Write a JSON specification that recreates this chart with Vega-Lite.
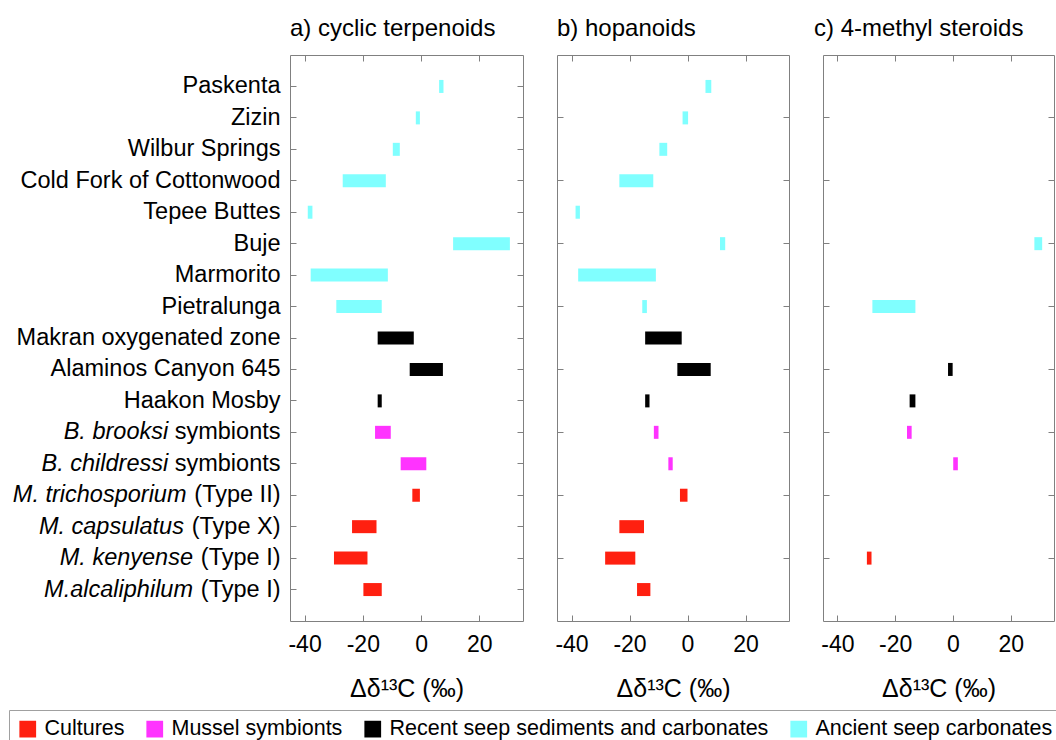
{
  "$schema": "https://vega.github.io/schema/vega-lite/v6.json",
  "padding": {"left": 8, "top": 16, "right": 0, "bottom": 0},
  "bounds": "flush",
  "spacing": 34,
  "config": {
    "font": "Liberation Sans",
    "view": {"stroke": null},
    "axis": {"domainColor": "#808080", "tickColor": "#808080", "labelColor": "#000000", "titleColor": "#000000", "labelFont": "Liberation Sans", "titleFont": "Liberation Sans", "grid": false, "titleFontWeight": "normal"},
    "axisX": {"labelFontSize": 23, "titleFontSize": 25, "labelPadding": 18, "titlePadding": 20, "labelExpr": "'' + datum.value"},
    "axisY": {"labelFontSize": 23.5, "labelLimit": 0},
    "title": {"font": "Liberation Sans", "fontSize": 24, "fontWeight": "normal", "anchor": "start", "frame": "group", "color": "#000000", "offset": 14, "baseline": "alphabetic"}
  },
  "data": {"values": [
    {"p": "a", "site": "Paskenta", "g": "Ancient seep carbonates", "lo": 6.2, "hi": 7.7},
    {"p": "a", "site": "Zizin", "g": "Ancient seep carbonates", "lo": -1.8, "hi": -0.4},
    {"p": "a", "site": "Wilbur Springs", "g": "Ancient seep carbonates", "lo": -9.7, "hi": -7.3},
    {"p": "a", "site": "Cold Fork of Cottonwood", "g": "Ancient seep carbonates", "lo": -26.9, "hi": -12.1},
    {"p": "a", "site": "Tepee Buttes", "g": "Ancient seep carbonates", "lo": -38.9, "hi": -37.3},
    {"p": "a", "site": "Buje", "g": "Ancient seep carbonates", "lo": 11.0, "hi": 30.5},
    {"p": "a", "site": "Marmorito", "g": "Ancient seep carbonates", "lo": -37.9, "hi": -11.4},
    {"p": "a", "site": "Pietralunga", "g": "Ancient seep carbonates", "lo": -29.1, "hi": -13.5},
    {"p": "a", "site": "Makran oxygenated zone", "g": "Recent seep sediments and carbonates", "lo": -14.9, "hi": -2.5},
    {"p": "a", "site": "Alaminos Canyon 645", "g": "Recent seep sediments and carbonates", "lo": -3.9, "hi": 7.5},
    {"p": "a", "site": "Haakon Mosby", "g": "Recent seep sediments and carbonates", "lo": -14.9, "hi": -13.5},
    {"p": "a", "site": "B. brooksi symbionts", "g": "Mussel symbionts", "lo": -15.8, "hi": -10.4},
    {"p": "a", "site": "B. childressi symbionts", "g": "Mussel symbionts", "lo": -7.0, "hi": 1.8},
    {"p": "a", "site": "M. trichosporium (Type II)", "g": "Cultures", "lo": -3.0, "hi": -0.4},
    {"p": "a", "site": "M. capsulatus (Type X)", "g": "Cultures", "lo": -23.7, "hi": -15.3},
    {"p": "a", "site": "M. kenyense (Type I)", "g": "Cultures", "lo": -29.9, "hi": -18.4},
    {"p": "a", "site": "M.alcaliphilum (Type I)", "g": "Cultures", "lo": -19.8, "hi": -13.5},
    {"p": "b", "site": "Paskenta", "g": "Ancient seep carbonates", "lo": 6.2, "hi": 8.2},
    {"p": "b", "site": "Zizin", "g": "Ancient seep carbonates", "lo": -1.7, "hi": 0.2},
    {"p": "b", "site": "Wilbur Springs", "g": "Ancient seep carbonates", "lo": -9.7, "hi": -7.0},
    {"p": "b", "site": "Cold Fork of Cottonwood", "g": "Ancient seep carbonates", "lo": -23.5, "hi": -11.8},
    {"p": "b", "site": "Tepee Buttes", "g": "Ancient seep carbonates", "lo": -38.6, "hi": -37.1},
    {"p": "b", "site": "Buje", "g": "Ancient seep carbonates", "lo": 11.2, "hi": 13.0},
    {"p": "b", "site": "Marmorito", "g": "Ancient seep carbonates", "lo": -37.7, "hi": -10.9},
    {"p": "b", "site": "Pietralunga", "g": "Ancient seep carbonates", "lo": -15.6, "hi": -14.0},
    {"p": "b", "site": "Makran oxygenated zone", "g": "Recent seep sediments and carbonates", "lo": -14.6, "hi": -2.0},
    {"p": "b", "site": "Alaminos Canyon 645", "g": "Recent seep sediments and carbonates", "lo": -3.5, "hi": 8.0},
    {"p": "b", "site": "Haakon Mosby", "g": "Recent seep sediments and carbonates", "lo": -14.6, "hi": -13.1},
    {"p": "b", "site": "B. brooksi symbionts", "g": "Mussel symbionts", "lo": -11.6, "hi": -10.0},
    {"p": "b", "site": "B. childressi symbionts", "g": "Mussel symbionts", "lo": -6.6, "hi": -5.1},
    {"p": "b", "site": "M. trichosporium (Type II)", "g": "Cultures", "lo": -2.6, "hi": 0.0},
    {"p": "b", "site": "M. capsulatus (Type X)", "g": "Cultures", "lo": -23.5, "hi": -15.0},
    {"p": "b", "site": "M. kenyense (Type I)", "g": "Cultures", "lo": -28.4, "hi": -18.0},
    {"p": "b", "site": "M.alcaliphilum (Type I)", "g": "Cultures", "lo": -17.4, "hi": -12.8},
    {"p": "c", "site": "Buje", "g": "Ancient seep carbonates", "lo": 28.2, "hi": 30.9},
    {"p": "c", "site": "Pietralunga", "g": "Ancient seep carbonates", "lo": -27.9, "hi": -13.0},
    {"p": "c", "site": "Alaminos Canyon 645", "g": "Recent seep sediments and carbonates", "lo": -1.7, "hi": -0.1},
    {"p": "c", "site": "Haakon Mosby", "g": "Recent seep sediments and carbonates", "lo": -15.0, "hi": -13.0},
    {"p": "c", "site": "B. brooksi symbionts", "g": "Mussel symbionts", "lo": -15.9, "hi": -14.3},
    {"p": "c", "site": "B. childressi symbionts", "g": "Mussel symbionts", "lo": 0.1, "hi": 1.7},
    {"p": "c", "site": "M. kenyense (Type I)", "g": "Cultures", "lo": -29.8, "hi": -28.2}
  ]},
  "hconcat": [
    {
      "width": 233, "height": 566,
      "title": {"text": "a) cyclic terpenoids"},
      "transform": [{"filter": "datum.p == 'a'"}],
      "layer": [
        {
          "mark": {"type": "bar", "size": 13},
          "encoding": {
            "y": {"field": "site", "type": "nominal", "scale": {"domain": ["Paskenta", "Zizin", "Wilbur Springs", "Cold Fork of Cottonwood", "Tepee Buttes", "Buje", "Marmorito", "Pietralunga", "Makran oxygenated zone", "Alaminos Canyon 645", "Haakon Mosby", "B. brooksi symbionts", "B. childressi symbionts", "M. trichosporium (Type II)", "M. capsulatus (Type X)", "M. kenyense (Type I)", "M.alcaliphilum (Type I)"], "paddingInner": 0, "paddingOuter": 0.5},
              "axis": {"orient": "left", "title": null, "tickSize": -6, "labelPadding": 16,
                "labelExpr": "test(/symbionts/, datum.value) ? 'symbionts' : (indexof(datum.value, '(') >= 0 ? substring(datum.value, indexof(datum.value, '(')) : datum.value)"}},
            "x": {"field": "lo", "type": "quantitative", "scale": {"domain": [-45, 35], "nice": false, "zero": false},
              "axis": {"orient": "bottom", "values": [-40, -20, 0, 20], "tickSize": -6, "title": "Δδ¹³C (‰)"}},
            "x2": {"field": "hi"},
            "color": {"field": "g", "type": "nominal",
              "scale": {"domain": ["Cultures", "Mussel symbionts", "Recent seep sediments and carbonates", "Ancient seep carbonates"], "range": ["#ff2010", "#ff33ff", "#000000", "#80ffff"]},
              "legend": {"title": null, "orient": "none", "legendX": -281, "legendY": 655, "direction": "horizontal", "columns": 4, "columnPadding": 19, "symbolType": "square", "symbolSize": 280, "symbolStrokeWidth": 0, "labelFontSize": 21.5, "labelFont": "Liberation Sans", "labelColor": "#000000", "labelOffset": 6, "labelLimit": 0, "strokeColor": "#a0a0a0", "padding": 8, "fillColor": "#ffffff"}}
          }
        },
        {
          "mark": {"type": "bar", "size": 13, "opacity": 0},
          "encoding": {
            "y": {"field": "site", "type": "nominal", "scale": {"domain": ["Paskenta", "Zizin", "Wilbur Springs", "Cold Fork of Cottonwood", "Tepee Buttes", "Buje", "Marmorito", "Pietralunga", "Makran oxygenated zone", "Alaminos Canyon 645", "Haakon Mosby", "B. brooksi symbionts", "B. childressi symbionts", "M. trichosporium (Type II)", "M. capsulatus (Type X)", "M. kenyense (Type I)", "M.alcaliphilum (Type I)"], "paddingInner": 0, "paddingOuter": 0.5},
              "axis": {"orient": "right", "title": null, "labels": false, "tickSize": -6}},
            "x": {"field": "lo", "type": "quantitative", "scale": {"domain": [-45, 35], "nice": false, "zero": false},
              "axis": {"orient": "top", "values": [-40, -20, 0, 20], "labels": false, "tickSize": -6, "title": null}},
            "x2": {"field": "hi"}
          }
        },
        {
          "mark": {"type": "bar", "size": 13, "opacity": 0},
          "encoding": {
            "y": {"field": "site", "type": "nominal", "scale": {"domain": ["Paskenta", "Zizin", "Wilbur Springs", "Cold Fork of Cottonwood", "Tepee Buttes", "Buje", "Marmorito", "Pietralunga", "Makran oxygenated zone", "Alaminos Canyon 645", "Haakon Mosby", "B. brooksi symbionts", "B. childressi symbionts", "M. trichosporium (Type II)", "M. capsulatus (Type X)", "M. kenyense (Type I)", "M.alcaliphilum (Type I)"], "paddingInner": 0, "paddingOuter": 0.5},
              "axis": {"orient": "left", "title": null, "ticks": false, "domain": false, "labelFontStyle": "italic",
                "labelPadding": {"condition": [{"test": "test(/symbionts/, datum.value)", "value": 122.3}, {"test": "test(/Type II/, datum.value)", "value": 104}, {"test": "test(/Type X/, datum.value)", "value": 106.6}], "value": 97.5},
                "labelExpr": "test(/symbionts/, datum.value) ? replace(datum.value, ' symbionts', '') : (indexof(datum.value, '(') >= 0 ? trim(substring(datum.value, 0, indexof(datum.value, '('))) : '')"}},
            "x": {"field": "lo", "type": "quantitative", "scale": {"domain": [-45, 35], "nice": false, "zero": false}, "axis": null},
            "x2": {"field": "hi"}
          }
        }
      ],
      "resolve": {"scale": {"x": "independent", "y": "independent"}, "axis": {"x": "independent", "y": "independent"}}
    },
    {
      "width": 232, "height": 566,
      "title": {"text": "b) hopanoids"},
      "transform": [{"filter": "datum.p == 'b'"}],
      "layer": [
        {
          "mark": {"type": "bar", "size": 13},
          "encoding": {
            "y": {"field": "site", "type": "nominal", "scale": {"domain": ["Paskenta", "Zizin", "Wilbur Springs", "Cold Fork of Cottonwood", "Tepee Buttes", "Buje", "Marmorito", "Pietralunga", "Makran oxygenated zone", "Alaminos Canyon 645", "Haakon Mosby", "B. brooksi symbionts", "B. childressi symbionts", "M. trichosporium (Type II)", "M. capsulatus (Type X)", "M. kenyense (Type I)", "M.alcaliphilum (Type I)"], "paddingInner": 0, "paddingOuter": 0.5},
              "axis": {"orient": "left", "title": null, "labels": false, "tickSize": -6, "values": ["Zizin", "Cold Fork of Cottonwood", "Buje", "Pietralunga", "Alaminos Canyon 645", "B. brooksi symbionts", "M. trichosporium (Type II)", "M. kenyense (Type I)"]}},
            "x": {"field": "lo", "type": "quantitative", "scale": {"domain": [-45, 35], "nice": false, "zero": false},
              "axis": {"orient": "bottom", "values": [-40, -20, 0, 20], "tickSize": -6, "title": "Δδ¹³C (‰)"}},
            "x2": {"field": "hi"},
            "color": {"field": "g", "type": "nominal",
              "scale": {"domain": ["Cultures", "Mussel symbionts", "Recent seep sediments and carbonates", "Ancient seep carbonates"], "range": ["#ff2010", "#ff33ff", "#000000", "#80ffff"]},
              "legend": {"title": null, "orient": "none", "legendX": -281, "legendY": 655, "direction": "horizontal", "columns": 4, "columnPadding": 19, "symbolType": "square", "symbolSize": 280, "symbolStrokeWidth": 0, "labelFontSize": 21.5, "labelFont": "Liberation Sans", "labelColor": "#000000", "labelOffset": 6, "labelLimit": 0, "strokeColor": "#a0a0a0", "padding": 8, "fillColor": "#ffffff"}}
          }
        },
        {
          "mark": {"type": "bar", "size": 13, "opacity": 0},
          "encoding": {
            "y": {"field": "site", "type": "nominal", "scale": {"domain": ["Paskenta", "Zizin", "Wilbur Springs", "Cold Fork of Cottonwood", "Tepee Buttes", "Buje", "Marmorito", "Pietralunga", "Makran oxygenated zone", "Alaminos Canyon 645", "Haakon Mosby", "B. brooksi symbionts", "B. childressi symbionts", "M. trichosporium (Type II)", "M. capsulatus (Type X)", "M. kenyense (Type I)", "M.alcaliphilum (Type I)"], "paddingInner": 0, "paddingOuter": 0.5},
              "axis": {"orient": "right", "title": null, "labels": false, "tickSize": -6, "values": ["Zizin", "Cold Fork of Cottonwood", "Buje", "Pietralunga", "Alaminos Canyon 645", "B. brooksi symbionts", "M. trichosporium (Type II)", "M. kenyense (Type I)"]}},
            "x": {"field": "lo", "type": "quantitative", "scale": {"domain": [-45, 35], "nice": false, "zero": false},
              "axis": {"orient": "top", "values": [-40, -20, 0, 20], "labels": false, "tickSize": -6, "title": null}},
            "x2": {"field": "hi"}
          }
        }
      ],
      "resolve": {"scale": {"x": "independent", "y": "independent"}, "axis": {"x": "independent", "y": "independent"}}
    },
    {
      "width": 231, "height": 566,
      "title": {"text": "c) 4-methyl steroids", "dx": -9},
      "transform": [{"filter": "datum.p == 'c'"}],
      "layer": [
        {
          "mark": {"type": "bar", "size": 13},
          "encoding": {
            "y": {"field": "site", "type": "nominal", "scale": {"domain": ["Paskenta", "Zizin", "Wilbur Springs", "Cold Fork of Cottonwood", "Tepee Buttes", "Buje", "Marmorito", "Pietralunga", "Makran oxygenated zone", "Alaminos Canyon 645", "Haakon Mosby", "B. brooksi symbionts", "B. childressi symbionts", "M. trichosporium (Type II)", "M. capsulatus (Type X)", "M. kenyense (Type I)", "M.alcaliphilum (Type I)"], "paddingInner": 0, "paddingOuter": 0.5},
              "axis": {"orient": "left", "title": null, "labels": false, "tickSize": -6, "values": ["Zizin", "Cold Fork of Cottonwood", "Buje", "Pietralunga", "Alaminos Canyon 645", "B. brooksi symbionts", "M. trichosporium (Type II)", "M. kenyense (Type I)"]}},
            "x": {"field": "lo", "type": "quantitative", "scale": {"domain": [-45, 35], "nice": false, "zero": false},
              "axis": {"orient": "bottom", "values": [-40, -20, 0, 20], "tickSize": -6, "title": "Δδ¹³C (‰)"}},
            "x2": {"field": "hi"},
            "color": {"field": "g", "type": "nominal",
              "scale": {"domain": ["Cultures", "Mussel symbionts", "Recent seep sediments and carbonates", "Ancient seep carbonates"], "range": ["#ff2010", "#ff33ff", "#000000", "#80ffff"]},
              "legend": {"title": null, "orient": "none", "legendX": -281, "legendY": 655, "direction": "horizontal", "columns": 4, "columnPadding": 19, "symbolType": "square", "symbolSize": 280, "symbolStrokeWidth": 0, "labelFontSize": 21.5, "labelFont": "Liberation Sans", "labelColor": "#000000", "labelOffset": 6, "labelLimit": 0, "strokeColor": "#a0a0a0", "padding": 8, "fillColor": "#ffffff"}}
          }
        },
        {
          "mark": {"type": "bar", "size": 13, "opacity": 0},
          "encoding": {
            "y": {"field": "site", "type": "nominal", "scale": {"domain": ["Paskenta", "Zizin", "Wilbur Springs", "Cold Fork of Cottonwood", "Tepee Buttes", "Buje", "Marmorito", "Pietralunga", "Makran oxygenated zone", "Alaminos Canyon 645", "Haakon Mosby", "B. brooksi symbionts", "B. childressi symbionts", "M. trichosporium (Type II)", "M. capsulatus (Type X)", "M. kenyense (Type I)", "M.alcaliphilum (Type I)"], "paddingInner": 0, "paddingOuter": 0.5},
              "axis": {"orient": "right", "title": null, "labels": false, "tickSize": -6, "values": ["Zizin", "Cold Fork of Cottonwood", "Buje", "Pietralunga", "Alaminos Canyon 645", "B. brooksi symbionts", "M. trichosporium (Type II)", "M. kenyense (Type I)"]}},
            "x": {"field": "lo", "type": "quantitative", "scale": {"domain": [-45, 35], "nice": false, "zero": false},
              "axis": {"orient": "top", "values": [-40, -20, 0, 20], "labels": false, "tickSize": -6, "title": null}},
            "x2": {"field": "hi"}
          }
        }
      ],
      "resolve": {"scale": {"x": "independent", "y": "independent"}, "axis": {"x": "independent", "y": "independent"}}
    }
  ]
}
